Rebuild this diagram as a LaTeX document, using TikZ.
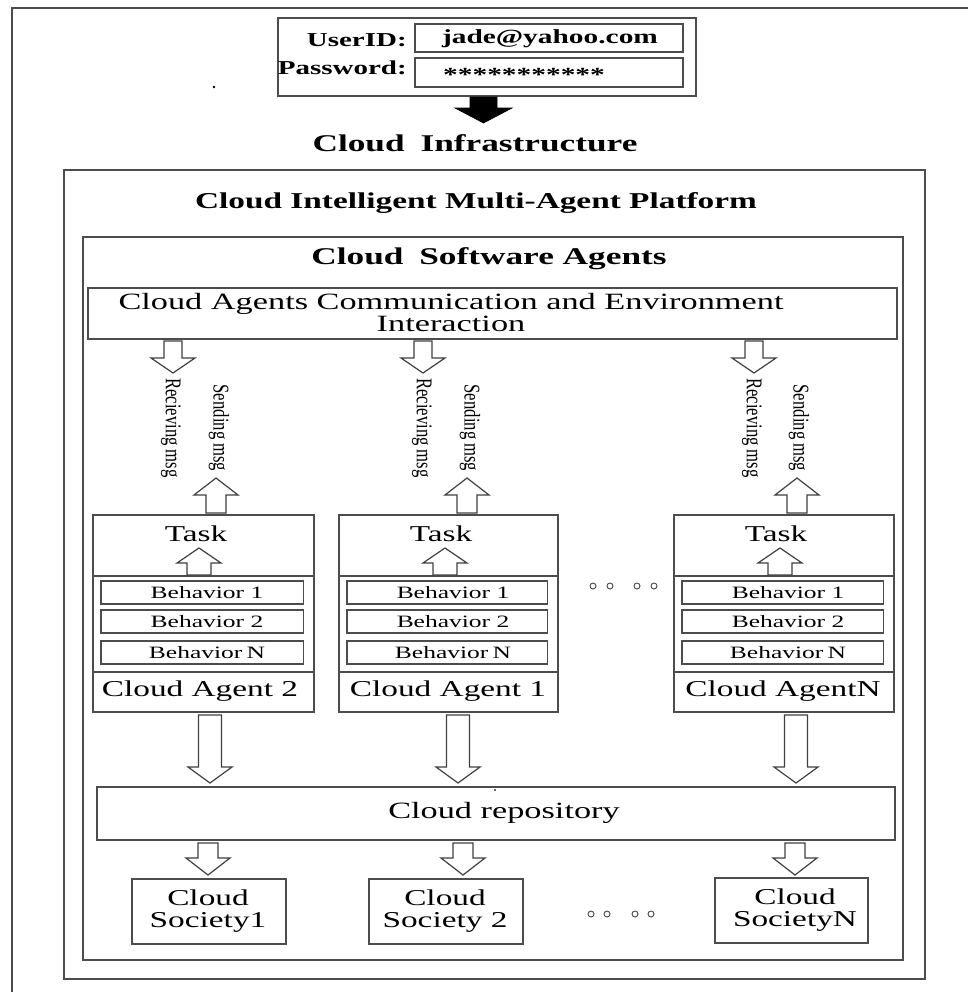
\documentclass[tikz,border=0pt]{standalone}
\usepackage{fontspec}
\setmainfont{Liberation Serif}
\usepackage{graphicx}
\usetikzlibrary{fit}
\newcommand{\hstr}[1]{\scalebox{1.47}[1]{#1}}
\newcommand{\vstr}[1]{\scalebox{1}[1.35]{#1}}
\newcommand{\fsz}[1]{\fontsize{#1}{#1}\selectfont}
\newcommand{\blockarrow}[7][hollow]{%
  \draw[#1] ({#2-#6},#3) -- ({#2+#6},#3) -- ({#2+#6},#4) -- ({#2+#7},#4) -- (#2,#5)
    -- ({#2-#7},#4) -- ({#2-#6},#4) -- cycle;}
\tikzset{
  outerframe/.style={draw=black!70, line width=1.2pt},
  boxstyle/.style={draw=black!70, line width=1pt, inner sep=0pt},
  boxline/.style={draw=black!70, line width=1pt},
  hollow/.style={draw=black!75, fill=white, line width=0.9pt, line join=miter},
  solidarrow/.style={fill=black, draw=black, line width=0.5pt},
  lbl/.style={inner sep=0pt, text=black},
  dotsty/.style={circle, draw=black!70, line width=0.7pt, inner sep=0pt, minimum size=4.5pt}
}
\begin{document}
\begin{tikzpicture}[x=0.75pt,y=-0.75pt]
\useasboundingbox (0,0) rectangle (968,992);
% outer frame (cut off at right and bottom)
\draw[outerframe] (12,992) -- (12,8) -- (968,8);

% login panel
\node[boxstyle, fit={(278,18) (696,96)}] (login) {};
\node[boxstyle, fit={(415,24) (683,52)}] (uid) {};
\node[boxstyle, fit={(415,58) (683,87)}] (pwd) {};
\node[lbl, anchor=east, font=\bfseries\fsz{14.8}] (uidl) at (407,40) {\hstr{UserID:}};
\node[lbl, anchor=east, font=\bfseries\fsz{14.8}] (pwdl) at (407,68) {\hstr{Password:}};
\node[lbl, font=\bfseries\fsz{15}] (uidv) at (550,39) {\hstr{jade@yahoo.com}};
\node[lbl, font=\bfseries\fsz{15}] (pwdv) at (524,75) {\hstr{***********}};
\fill[black] (214,87) circle[radius=1.3];
\blockarrow[solidarrow]{483.5}{97}{108}{123}{13.5}{28.5}
\node[lbl, font=\bfseries\fsz{18}] (infra) at (475,143) {\hstr{Cloud\hspace{0.45em}Infrastructure}};

% platform
\node[boxstyle, line width=1.2pt, fit={(64,170) (925,979)}] (platform) {};
\node[lbl, font=\bfseries\fsz{17}] (platt) at (476,203) {\hstr{Cloud Intelligent Multi-Agent Platform}};

% software agents
\node[boxstyle, line width=1.2pt, fit={(83,237) (903,960)}] (swagents) {};
\node[lbl, font=\bfseries\fsz{18}] (swt) at (489,259) {\hstr{Cloud\hspace{0.45em}Software Agents}};

% communication box
\node[boxstyle, fit={(88,288) (897,339)}] (comm) {};
\node[lbl, font=\fsz{17.5}, align=center] (commt) at (451,313)
  {\hstr{Cloud Agents Communication and Environment}\\[-1pt]\hstr{Interaction}};

% agents
\foreach \ag/\lft/\rgt/\tx/\ux/\rx/\rax/\sx/\sax/\bx/\cx/\lab in {
  2/93/314/196/199/171/173/219/216/207/200/{Cloud Agent 2},
  1/339/558/441/445/422/423/470/467/453/448/{Cloud Agent 1},
  N/674/894/776/780/752/754/799/797/788/783/{Cloud AgentN}}
{
  \node[boxstyle, fit={(\lft,515) (\rgt,712)}] (agent\ag) {};
  \draw[boxline] (\lft,576) -- (\rgt,576);
  \draw[boxline] (\lft,672) -- (\rgt,672);
  \node[lbl, font=\fsz{17}] (task\ag) at (\tx,534) {\hstr{Task}};
  \blockarrow{\ux}{575}{563}{548}{12}{22}
  \node[boxstyle, fit={({\lft+8},581) ({\rgt-10.5},604)}] (bA\ag) {};
  \node[boxstyle, fit={({\lft+8},610) ({\rgt-10.5},633)}] (bB\ag) {};
  \node[boxstyle, fit={({\lft+8},641) ({\rgt-10.5},664)}] (bN\ag) {};
  \node[lbl, font=\fsz{13}] (bAt\ag) at (\bx,592.5) {\hstr{Behavior 1}};
  \node[lbl, font=\fsz{13}] (bBt\ag) at (\bx,621.5) {\hstr{Behavior 2}};
  \node[lbl, font=\fsz{13}] (bNt\ag) at (\bx,652.5) {\hstr{Behavior\,N}};
  \node[lbl, font=\fsz{17}] (lab\ag) at (\cx,691) {\hstr{\lab}};
  % receiving / sending
  \blockarrow{\rax}{341}{358}{373}{9}{22}
  \node[lbl, rotate=-90, font=\fsz{12.5}] (recv\ag) at (\rx,428) {\vstr{Recieving msg}};
  \node[lbl, rotate=-90, font=\fsz{12.5}] (send\ag) at (\sx,428) {\vstr{Sending msg}};
  \blockarrow{\sax}{513}{495}{478}{10}{22}
}
% ellipsis between agents
\foreach \i/\x in {1/593,2/610,3/637,4/654}{
  \node[dotsty] (adot\i) at (\x,586) {};
}

% arrows to repository
\foreach \x in {210,458,796}{
  \blockarrow{\x}{715}{767}{783}{11.5}{22}
}

% repository
\node[boxstyle, fit={(97,787) (895,840)}] (repo) {};
\node[lbl, font=\fsz{17.5}] (repot) at (504,813) {\hstr{Cloud repository}};
\fill[black!80] (495,790) circle[radius=1.2];

% arrows to societies
\foreach \x in {208,463,795}{
  \blockarrow{\x}{843}{858}{875}{10}{22}
}

% societies
\node[boxstyle, fit={(132,879) (286,944)}] (soc1) {};
\node[boxstyle, fit={(369,879) (523,944)}] (soc2) {};
\node[boxstyle, fit={(715,878) (868,943)}] (socN) {};
\node[lbl, font=\fsz{17}, align=center] (soc1t) at (208,911) {\hstr{Cloud}\\[0pt]\hstr{Society1}};
\node[lbl, font=\fsz{17}, align=center] (soc2t) at (445,911) {\hstr{Cloud}\\[0pt]\hstr{Society 2}};
\node[lbl, font=\fsz{17}, align=center] (socNt) at (795,910) {\hstr{Cloud}\\[0pt]\hstr{SocietyN}};
\foreach \i/\x in {1/591,2/607,3/635,4/651}{
  \node[dotsty] (sdot\i) at (\x,914) {};
}
\end{tikzpicture}
\end{document}
